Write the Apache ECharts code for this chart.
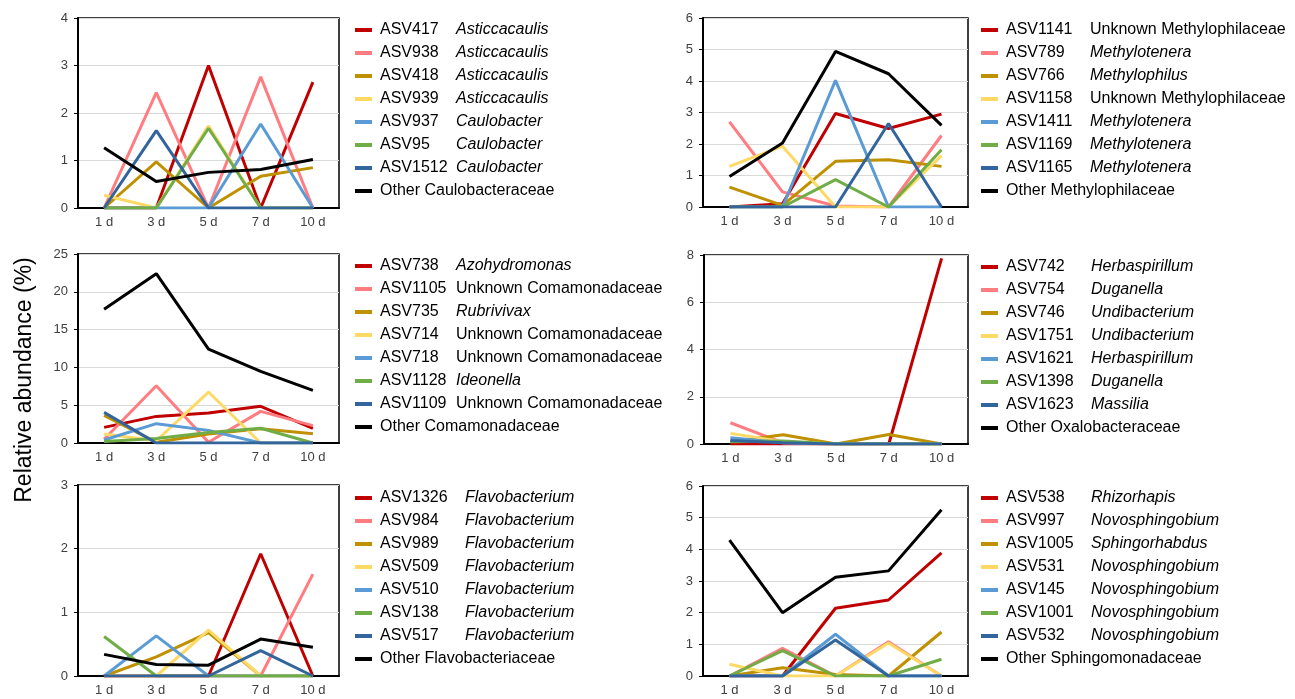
<!DOCTYPE html>
<html>
<head>
<meta charset="utf-8">
<script src="https://cdn.jsdelivr.net/npm/echarts@6/dist/echarts.min.js"></script>
<style>
html,body{margin:0;padding:0;background:#fff;}
#chart{width:1295px;height:699px;}
</style>
</head>
<body>
<div id="chart"></div>
<script>
const days = ['1 d', '3 d', '5 d', '7 d', '10 d'];
const lineColors = ['#C00000', '#FF7C80', '#BF9000', '#FFD966', '#5B9BD5', '#70AD47', '#31659C', '#000000'];

// Panel 1: Caulobacteraceae
const p1Asv = ['ASV417', 'ASV938', 'ASV418', 'ASV939', 'ASV937', 'ASV95', 'ASV1512'];
const p1Genus = ['Asticcacaulis', 'Asticcacaulis', 'Asticcacaulis', 'Asticcacaulis', 'Caulobacter', 'Caulobacter', 'Caulobacter'];
const p1Other = 'Other Caulobacteraceae';
const p1Values = [
  [0, 0, 3.0, 0, 2.65],
  [0, 2.43, 0, 2.76, 0],
  [0, 0.97, 0, 0.67, 0.85],
  [0.27, 0, 1.73, 0, 0],
  [0, 0, 0, 1.77, 0],
  [0, 0, 1.68, 0, 0],
  [0, 1.63, 0, 0, 0],
  [1.27, 0.56, 0.75, 0.81, 1.02]
];
const p1Max = 4, p1Step = 1;

// Panel 2: Methylophilaceae
const p2Asv = ['ASV1141', 'ASV789', 'ASV766', 'ASV1158', 'ASV1411', 'ASV1169', 'ASV1165'];
const p2Genus = ['Unknown Methylophilaceae', 'Methylotenera', 'Methylophilus', 'Unknown Methylophilaceae', 'Methylotenera', 'Methylotenera', 'Methylotenera'];
const p2Other = 'Other Methylophilaceae';
const p2Values = [
  [0, 0.1, 2.97, 2.49, 2.95],
  [2.7, 0.48, 0.03, 0, 2.27],
  [0.63, 0.05, 1.45, 1.5, 1.29],
  [1.29, 1.93, 0, 0, 1.63],
  [0, 0, 4.02, 0, 0],
  [0, 0, 0.87, 0, 1.82],
  [0, 0, 0, 2.65, 0],
  [0.97, 2.03, 4.94, 4.23, 2.59]
];
const p2Max = 6, p2Step = 1;

// Panel 3: Comamonadaceae
const p3Asv = ['ASV738', 'ASV1105', 'ASV735', 'ASV714', 'ASV718', 'ASV1128', 'ASV1109'];
const p3Genus = ['Azohydromonas', 'Unknown Comamonadaceae', 'Rubrivivax', 'Unknown Comamonadaceae', 'Unknown Comamonadaceae', 'Ideonella', 'Unknown Comamonadaceae'];
const p3Other = 'Other Comamonadaceae';
const p3Values = [
  [2.07, 3.52, 3.96, 4.85, 1.95],
  [0.5, 7.58, 0.1, 4.18, 2.3],
  [3.66, 0.1, 1.2, 1.9, 1.23],
  [1.19, 0.3, 6.74, 0, 0],
  [0.4, 2.56, 1.67, 0, 0],
  [0.2, 0.6, 1.4, 1.95, 0],
  [4.05, 0, 0, 0, 0],
  [17.7, 22.4, 12.42, 9.47, 6.95]
];
const p3Max = 25, p3Step = 5;

// Panel 4: Oxalobacteraceae
const p4Asv = ['ASV742', 'ASV754', 'ASV746', 'ASV1751', 'ASV1621', 'ASV1398', 'ASV1623'];
const p4Genus = ['Herbaspirillum', 'Duganella', 'Undibacterium', 'Undibacterium', 'Herbaspirillum', 'Duganella', 'Massilia'];
const p4Other = 'Other Oxalobacteraceae';
const p4Values = [
  [0, 0, 0, 0, 7.86],
  [0.9, 0.05, 0, 0, 0],
  [0.1, 0.39, 0, 0.4, 0],
  [0.45, 0.1, 0, 0, 0],
  [0.27, 0.05, 0, 0, 0],
  [0.1, 0.13, 0, 0, 0],
  [0.15, 0.05, 0, 0, 0],
  [null, null, null, null, null]
];
const p4Max = 8, p4Step = 2;

// Panel 5: Flavobacteriaceae
const p5Asv = ['ASV1326', 'ASV984', 'ASV989', 'ASV509', 'ASV510', 'ASV138', 'ASV517'];
const p5Genus = ['Flavobacterium', 'Flavobacterium', 'Flavobacterium', 'Flavobacterium', 'Flavobacterium', 'Flavobacterium', 'Flavobacterium'];
const p5Other = 'Other Flavobacteriaceae';
const p5Values = [
  [0, 0, 0, 1.92, 0],
  [0, 0, 0, 0, 1.6],
  [0, 0.3, 0.68, 0, 0],
  [0, 0, 0.72, 0, 0],
  [0, 0.63, 0, 0, 0],
  [0.62, 0, 0, 0, 0],
  [0, 0, 0, 0.4, 0],
  [0.34, 0.18, 0.17, 0.58, 0.45]
];
const p5Max = 3, p5Step = 1;

// Panel 6: Sphingomonadaceae
const p6Asv = ['ASV538', 'ASV997', 'ASV1005', 'ASV531', 'ASV145', 'ASV1001', 'ASV532'];
const p6Genus = ['Rhizorhapis', 'Novosphingobium', 'Sphingorhabdus', 'Novosphingobium', 'Novosphingobium', 'Novosphingobium', 'Novosphingobium'];
const p6Other = 'Other Sphingomonadaceae';
const p6Values = [
  [0, 0, 2.14, 2.4, 3.89],
  [0, 0.87, 0, 1.08, 0],
  [0, 0.26, 0.05, 0, 1.39],
  [0.37, 0, 0, 1.04, 0],
  [0, 0, 1.32, 0, 0],
  [0, 0.8, 0, 0, 0.53],
  [0, 0, 1.14, 0, 0],
  [4.29, 2.0, 3.12, 3.32, 5.25]
];
const p6Max = 6, p6Step = 1;

const yTitle = 'Relative abundance (%)';

const panels = [
  {asv: p1Asv, genus: p1Genus, other: p1Other, values: p1Values, max: p1Max, step: p1Step,
   grid: {left: 78, top: 18, width: 261, height: 190}, legend: {left: 355, top: 21}, col: 76},
  {asv: p2Asv, genus: p2Genus, other: p2Other, values: p2Values, max: p2Max, step: p2Step,
   grid: {left: 703, top: 18, width: 265, height: 189}, legend: {left: 981, top: 21}, col: 84},
  {asv: p3Asv, genus: p3Genus, other: p3Other, values: p3Values, max: p3Max, step: p3Step,
   grid: {left: 78, top: 254, width: 261, height: 189}, legend: {left: 355, top: 257}, col: 76},
  {asv: p4Asv, genus: p4Genus, other: p4Other, values: p4Values, max: p4Max, step: p4Step,
   grid: {left: 704, top: 255, width: 264, height: 189}, legend: {left: 981, top: 258}, col: 85},
  {asv: p5Asv, genus: p5Genus, other: p5Other, values: p5Values, max: p5Max, step: p5Step,
   grid: {left: 78, top: 485, width: 261, height: 191}, legend: {left: 355, top: 489}, col: 85},
  {asv: p6Asv, genus: p6Genus, other: p6Other, values: p6Values, max: p6Max, step: p6Step,
   grid: {left: 703, top: 486, width: 265, height: 190}, legend: {left: 981, top: 489}, col: 85}
];

const labelInfo = {};
const grids = [], xAxes = [], yAxes = [], legends = [], series = [];

panels.forEach((p, i) => {
  grids.push(Object.assign({show: true, borderColor: '#000', borderWidth: 1.5, backgroundColor: 'transparent'}, p.grid));
  xAxes.push({
    type: 'category', gridIndex: i, data: days, boundaryGap: true,
    axisLine: {show: true, lineStyle: {color: '#000', width: 2}},
    axisTick: {show: false},
    axisLabel: {color: '#404040', fontSize: 13, fontFamily: 'Liberation Sans, Arial, sans-serif', margin: 8},
    splitLine: {show: false}
  });
  yAxes.push({
    type: 'value', gridIndex: i, min: 0, max: p.max, interval: p.step,
    axisLine: {show: true, lineStyle: {color: '#000', width: 2}},
    axisTick: {show: true, length: 4, lineStyle: {color: '#000', width: 1}},
    axisLabel: {color: '#404040', fontSize: 13, fontFamily: 'Liberation Sans, Arial, sans-serif', margin: 10},
    splitLine: {show: true, lineStyle: {color: '#D9D9D9', width: 1}}
  });
  const names = [];
  p.asv.forEach((a, k) => {
    const name = a + ' ' + p.genus[k];
    labelInfo[name] = {asv: a, genus: p.genus[k], col: p.col};
    names.push(name);
  });
  labelInfo[p.other] = {other: true};
  names.push(p.other);
  names.forEach((name, k) => {
    series.push({
      name: name, type: 'line', xAxisIndex: i, yAxisIndex: i,
      data: p.values[k], showSymbol: false, symbol: 'none',
      lineStyle: {color: lineColors[k], width: 3},
      itemStyle: {color: lineColors[k]},
      connectNulls: false, silent: true
    });
  });
  legends.push({
    orient: 'vertical', left: p.legend.left, top: p.legend.top,
    data: names.map(n => ({name: n, icon: 'rect'})),
    itemWidth: 17, itemHeight: 4, itemGap: 5,
    selectedMode: false, padding: 0,
    textStyle: {
      fontSize: 16, color: '#000', fontFamily: 'Liberation Sans, Arial, sans-serif', lineHeight: 18,
      rich: {
        a: {fontSize: 16, width: p.col, padding: [0, 0, 0, 3], lineHeight: 18, fontFamily: 'Liberation Sans, Arial, sans-serif', color: '#000'},
        i: {fontSize: 16, fontStyle: 'italic', lineHeight: 18, fontFamily: 'Liberation Sans, Arial, sans-serif', color: '#000'},
        n: {fontSize: 16, lineHeight: 18, fontFamily: 'Liberation Sans, Arial, sans-serif', color: '#000'},
        o: {fontSize: 16, padding: [0, 0, 0, 3], lineHeight: 18, fontFamily: 'Liberation Sans, Arial, sans-serif', color: '#000'}
      }
    },
    formatter: function (name) {
      const info = labelInfo[name];
      if (!info || info.other) return '{o|' + name + '}';
      const style = info.genus.indexOf('Unknown') === 0 ? 'n' : 'i';
      return '{a|' + info.asv + '}{' + style + '|' + info.genus + '}';
    }
  });
});

const chart = echarts.init(document.getElementById('chart'), null, {renderer: 'canvas'});
chart.setOption({
  animation: false,
  backgroundColor: '#fff',
  grid: grids, xAxis: xAxes, yAxis: yAxes, legend: legends, series: series,
  graphic: [{
    type: 'text', x: 25, y: 380, rotation: Math.PI / 2,
    style: {text: yTitle, fontSize: 23, fill: '#000', fontFamily: 'Liberation Sans, Arial, sans-serif',
            textAlign: 'center', textVerticalAlign: 'middle'}
  }]
});
</script>
</body>
</html>
